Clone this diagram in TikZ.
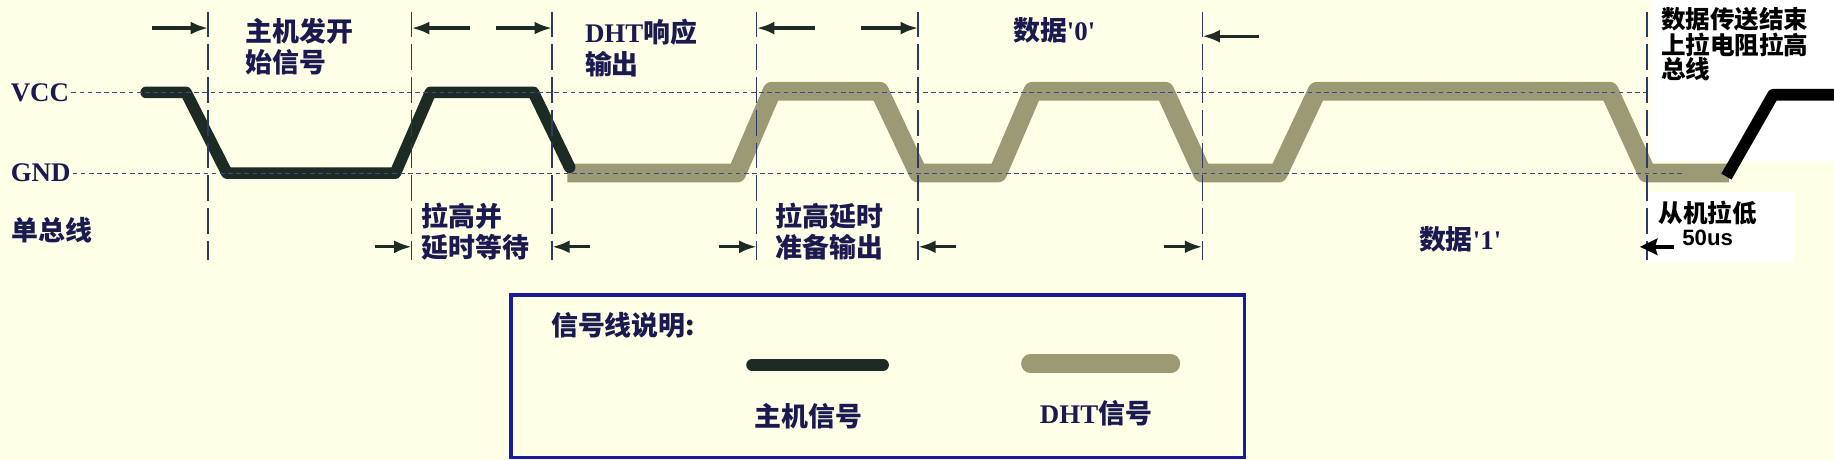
\documentclass[tikz,border=0pt]{standalone}
\usepackage{fontspec}
\setmainfont{Liberation Serif}
\newfontfamily\cjk{Noto Sans CJK SC}
\newfontfamily\lat{Liberation Sans}
\usetikzlibrary{arrows.meta}

\definecolor{fondo}{HTML}{FFFFE8}
\definecolor{cmaestro}{HTML}{1C2B24}
\definecolor{cdht}{HTML}{9C9A74}
\definecolor{cguia}{HTML}{2E3A66}
\definecolor{cnivel}{HTML}{3C4A8C}
\definecolor{cmarino}{HTML}{1A1A50}
\definecolor{cborde}{HTML}{1A1A9C}

\tikzset{
  maestro/.style={draw=cmaestro, line width=10pt, line join=round, line cap=round},
  dht/.style={draw=cdht, line width=16pt, line join=round},
  guia/.style={draw=cguia, line width=1.2pt, dash pattern=on 22pt off 6pt},
  nivel/.style={draw=cnivel, line width=1pt, dash pattern=on 4pt off 3pt},
  cota/.style={draw=cmaestro, line width=2.8pt, -{Latex[length=15pt,width=11pt]}},
  texto/.style={inner sep=0pt, anchor=west, align=left, text=cmarino,
    font=\cjk\bfseries\fontsize{23}{27}\selectfont},
  latin/.style={inner sep=0pt, anchor=west, text=cmarino,
    font=\rmfamily\bfseries\fontsize{23}{27}\selectfont}
}

\begin{document}
\begin{tikzpicture}[x=1pt, y=-1pt]
    % Fondo
    \fill[fondo] (0,0) rectangle (1568,393);
    \useasboundingbox (0,0) rectangle (1568,393);
    \fill[white] (1412,0) rectangle (1568,138);
    \fill[white] (1405,164) rectangle (1533,224);

    % Senal DHT
    \draw[dht] (485,148) -- (630,148) -- (660,78) -- (752,78) -- (785,148)
      -- (853,148) -- (883,78) -- (996,78) -- (1028,148) -- (1093,148)
      -- (1126,78) -- (1376,78) -- (1408,148) -- (1478,148);

    % Senal del maestro
    \draw[maestro] (125,79) -- (159,79) -- (194,148) -- (338,148)
      -- (368,79) -- (456,79) -- (487,143);
    \draw[maestro, draw=black, line cap=butt] (1476,151) -- (1516,81) -- (1568,81);

    % Niveles VCC y GND
    \draw[nivel] (61,79) -- (1411,79);
    \draw[nivel] (62,148) -- (1441,148);

    % Guias verticales
    \foreach \x in {178,352,472,647,785,1028,1408}
      \draw[guia] (\x,10) -- (\x,222);

    % Cotas arriba
    \draw[cota] (130,24) -- (178,24);
    \draw[cota] (402,24) -- (352,24);
    \draw[cota] (424,24) -- (472,24);
    \draw[cota] (697,24) -- (647,24);
    \draw[cota] (736,24) -- (785,24);
    \draw[cota] (1076,31) -- (1028,31);

    % Cotas abajo
    \draw[cota] (321,211) -- (352,211);
    \draw[cota] (504,211) -- (472,211);
    \draw[cota] (615,211) -- (647,211);
    \draw[cota] (817,211) -- (785,211);
    \draw[cota] (995,211) -- (1028,211);
    \draw[draw=black, line width=3pt, -{Stealth[length=15pt,width=14pt,inset=2pt]}]
      (1431,211) -- (1402,211);

    % Etiquetas
    \node[latin] (vcc) at (9,79) {VCC};
    \node[latin] (gnd) at (9,148) {GND};
    \node[texto] (bus) at (10,197) {单总线};
    \node[texto] (inicio) at (210,40) {主机发开\\始信号};
    \node[texto] (respuesta) at (500,41) {{\rmfamily DHT}响应\\输出};
    \node[texto] (cero) at (866,26) {数据{\rmfamily\textquotesingle 0\textquotesingle}};
    \node[texto, text=black, font=\cjk\bfseries\fontsize{21}{19.5}\selectfont]
      (fin) at (1420,38) {数据传送结束\\上拉电阻拉高\\总线};
    \node[texto] (espera) at (360,198) {拉高并\\延时等待};
    \node[texto] (prepara) at (663,198) {拉高延时\\准备输出};
    \node[texto] (uno) at (1213,205) {数据{\rmfamily\textquotesingle 1\textquotesingle}};
    \node[texto, anchor=center, align=center, text=black,
      font=\cjk\bfseries\fontsize{21}{19}\selectfont]
      (bajo) at (1460,191) {从机拉低\\{\lat\fontsize{19}{19}\selectfont 50us}};

    % Leyenda
    \draw[draw=cborde, line width=3pt, fill=fondo] (437,252) rectangle (1064,391);
    \node[texto] (titulo) at (471,278) {信号线说明:};
    \draw[maestro, line cap=round] (643,312) -- (755,312);
    \draw[dht, line cap=round] (881,311) -- (1001,311);
    \node[texto, anchor=center] (lmaestro) at (691,356) {主机信号};
    \node[texto, anchor=center] (ldht) at (937,353) {{\rmfamily DHT}信号};
\end{tikzpicture}
\end{document}
